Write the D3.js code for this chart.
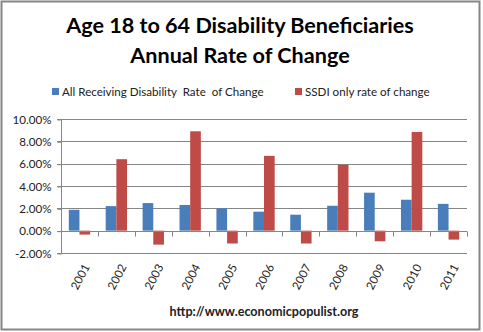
<!DOCTYPE html>
<html>
<head>
<meta charset="utf-8">
<script src="https://cdn.jsdelivr.net/npm/d3@7"></script>
<style>
  html, body { margin: 0; padding: 0; background: #fff; }
  svg { display: block; }
  text { font-family: Lato, "Open Sans", sans-serif; }
</style>
</head>
<body>
<svg id="chart" width="483" height="332"></svg>
<script>
// Annual rate of change, age 18 to 64 disability beneficiaries
const years = ["2001","2002","2003","2004","2005","2006","2007","2008","2009","2010","2011"];
const allReceiving = [1.87, 2.20, 2.47, 2.30, 2.00, 1.70, 1.43, 2.23, 3.40, 2.77, 2.40];
const ssdiOnly = [-0.35, 6.40, -1.25, 8.90, -1.15, 6.70, -1.15, 5.90, -0.95, 8.84, -0.80];
const yTicks = [-2, 0, 2, 4, 6, 8, 10];
const seriesNames = ["All Receiving Disability  Rate  of Change", "SSDI only rate of change"];
const seriesColors = ["#4a7ebb", "#be4b48"];

const svg = d3.select("#chart");
const plot = { left: 61, right: 467, top: 119, bottom: 253 };

// chart frame
svg.append("rect")
  .attr("x", 1.5).attr("y", 1.5)
  .attr("width", 478).attr("height", 328)
  .attr("fill", "#fff").attr("stroke", "#868686").attr("stroke-width", 2);

// title
const title = svg.append("text")
  .attr("x", 240).attr("text-anchor", "middle")
  .attr("font-weight", "bold").attr("font-size", 21.6).attr("fill", "#000");
title.append("tspan").attr("x", 240).attr("y", 33).text("Age 18 to 64 Disability Beneficiaries");
title.append("tspan").attr("x", 240).attr("y", 63).text("Annual Rate of Change");

// legend
const legendItems = [
  { name: seriesNames[0], color: seriesColors[0], x: 52 },
  { name: seriesNames[1], color: seriesColors[1], x: 295 }
];
const lg = svg.append("g");
legendItems.forEach(d => {
  lg.append("rect").attr("x", d.x).attr("y", 88).attr("width", 7).attr("height", 7).attr("fill", d.color);
  lg.append("text").attr("x", d.x + 10).attr("y", 95.5)
    .attr("font-size", 11.6).attr("fill", "#222")
    .style("white-space", "pre").text(d.name);
});

// scales
const x0 = d3.scaleBand().domain(years).range([plot.left, plot.right]).paddingInner(0).paddingOuter(0);
const x1 = d3.scaleBand().domain([0, 1]).range([0, x0.bandwidth()]).paddingInner(0).paddingOuter(0.73);
const y = d3.scaleLinear().domain([-2, 10]).range([plot.bottom, plot.top]);

// gridlines
svg.append("g").selectAll("line").data(yTicks).join("line")
  .attr("x1", plot.left - 4).attr("x2", plot.right)
  .attr("y1", d => Math.round(y(d)) + 0.5).attr("y2", d => Math.round(y(d)) + 0.5)
  .attr("stroke", "#868686").attr("stroke-width", 1);

// bars
const groups = svg.append("g").selectAll("g").data(years).join("g")
  .attr("transform", d => `translate(${x0(d)},0)`);
groups.selectAll("rect")
  .data((d, i) => [allReceiving[i], ssdiOnly[i]].map((v, k) => ({ v, k })))
  .join("rect")
  .attr("x", d => x1(d.k))
  .attr("width", x1.bandwidth())
  .attr("y", d => y(Math.max(0, d.v)))
  .attr("height", d => Math.abs(y(d.v) - y(0)))
  .attr("fill", d => seriesColors[d.k]);

// y axis
const yAxis = d3.axisLeft(y).tickValues(yTicks).tickSize(4).tickFormat(d => d.toFixed(2) + "%");
const ya = svg.append("g").attr("transform", `translate(${plot.left + 0.5},0.5)`).call(yAxis);
ya.select(".domain").attr("stroke", "#868686").attr("d", `M0,${y(-2)}V${y(10)}`);
ya.selectAll(".tick line").attr("stroke", "#868686");
ya.selectAll(".tick text").attr("font-family", "Lato, 'Open Sans', sans-serif")
  .attr("font-size", 11.6).attr("fill", "#222").attr("x", -10);

// x axis along the zero line, ticks at category boundaries
const xa = svg.append("g").attr("transform", `translate(0,${Math.round(y(0)) + 0.5})`);
xa.append("line").attr("x1", plot.left).attr("x2", plot.right).attr("stroke", "#868686");
xa.selectAll(".bt").data(years.map(d => x0(d) + x0.bandwidth()))
  .join("line").attr("class", "bt")
  .attr("x1", d => Math.round(d) + 0.5).attr("x2", d => Math.round(d) + 0.5)
  .attr("y1", 0).attr("y2", 5).attr("stroke", "#868686");

// rotated year labels
svg.append("g").selectAll("text").data(years).join("text")
  .attr("transform", d => `translate(${x0(d) + x0.bandwidth() / 2 + 7},${265}) rotate(-62)`)
  .attr("text-anchor", "end").attr("dy", "0.35em")
  .attr("font-size", 11.6).attr("fill", "#222")
  .text(d => d);

// source
svg.append("text").attr("x", 264).attr("y", 316).attr("text-anchor", "middle")
  .attr("font-size", 12.6).attr("font-weight", "bold").attr("fill", "#222")
  .text("http://www.economicpopulist.org");
</script>
</body>
</html>
